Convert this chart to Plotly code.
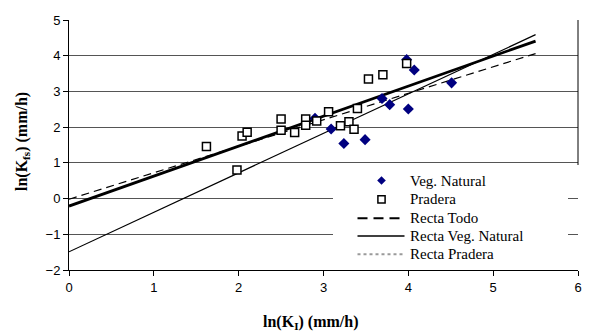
import plotly.graph_objects as go

# Data
veg_x = [3.98, 4.07, 4.51, 3.69, 3.78, 4.00, 3.09, 3.24, 3.49, 2.90]
veg_y = [3.89, 3.60, 3.24, 2.80, 2.63, 2.51, 1.95, 1.54, 1.65, 2.25]

pra_x = [1.62, 1.98, 2.04, 2.10, 2.50, 2.50, 2.66, 2.79, 2.79, 2.92, 3.06, 3.20, 3.30, 3.36, 3.40, 3.53, 3.70, 3.98]
pra_y = [1.46, 0.80, 1.75, 1.86, 2.23, 1.91, 1.85, 2.23, 2.05, 2.17, 2.43, 2.04, 2.15, 1.94, 2.52, 3.35, 3.47, 3.78]

line_x = [0.0, 5.5]
todo_y = [-0.02, 4.06]
vegline_y = [-1.49, 4.59]
praline_y = [-0.21, 4.41]

x_ticks = [0, 1, 2, 3, 4, 5, 6]
y_ticks = [-2, -1, 0, 1, 2, 3, 4, 5]

legend_labels = ["Veg. Natural", "Pradera", "Recta Todo", "Recta Veg. Natural", "Recta Pradera"]

serif = "Liberation Serif, Times New Roman, serif"
sans = "Liberation Sans, Arial, sans-serif"

W, H = 594, 335
ML, MR, MT, MB = 69, 16, 20, 65
PW, PH = W - ML - MR, H - MT - MB
XR = (0, 6)
YR = (-2, 5)


def px(xp):
    return (xp - ML) / PW


def py(yp):
    return (H - MB - yp) / PH


fig = go.Figure()

# regression lines first (markers drawn on top)
fig.add_trace(go.Scatter(x=line_x, y=todo_y, mode="lines", name="Recta Todo",
                         line=dict(color="black", width=1.2, dash="8px,5px")))
fig.add_trace(go.Scatter(x=line_x, y=vegline_y, mode="lines", name="Recta Veg. Natural",
                         line=dict(color="black", width=1.2)))
fig.add_trace(go.Scatter(x=line_x, y=praline_y, mode="lines", name="Recta Pradera",
                         line=dict(color="black", width=2.8)))
fig.add_trace(go.Scatter(x=veg_x, y=veg_y, mode="markers", name="Veg. Natural",
                         marker=dict(symbol="diamond", size=8.5, color="#000080")))
fig.add_trace(go.Scatter(x=pra_x, y=pra_y, mode="markers", name="Pradera",
                         marker=dict(symbol="square", size=8, color="white",
                                     line=dict(color="black", width=1.5))))

# white legend backdrop covering the gridlines (between grid and traces)
fig.add_shape(type="rect", xref="x", yref="y",
              x0=XR[0] + px(333) * (XR[1] - XR[0]), x1=XR[0] + px(568) * (XR[1] - XR[0]),
              y0=YR[0] + py(268) * (YR[1] - YR[0]), y1=YR[0] + py(165) * (YR[1] - YR[0]),
              fillcolor="white", line=dict(width=0), layer="between")
# right frame line (interrupted by the legend in the reference)
fig.add_shape(type="line", xref="paper", yref="paper", x0=1, x1=1, y0=py(165), y1=1,
              line=dict(color="black", width=1), layer="above")

# legend drawn by hand so that size and spacing match the reference
rows = [180.5, 199.3, 218.3, 236.0, 254.3]
sx0, sx1, scx, tx = 357.5, 404.5, 381.5, 408
d = 4.3
fig.add_shape(type="path", xref="paper", yref="paper",
              path=f"M {px(scx)},{py(rows[0]-d)} L {px(scx+d)},{py(rows[0])} "
                   f"L {px(scx)},{py(rows[0]+d)} L {px(scx-d)},{py(rows[0])} Z",
              fillcolor="#000080", line=dict(width=0))
s = 3.6
fig.add_shape(type="rect", xref="paper", yref="paper",
              x0=px(scx - s), x1=px(scx + s), y0=py(rows[1] + s), y1=py(rows[1] - s),
              fillcolor="white", line=dict(color="black", width=1.5))
fig.add_shape(type="line", xref="paper", yref="paper", x0=px(sx0), x1=px(sx1 - 4),
              y0=py(rows[2]), y1=py(rows[2]), line=dict(color="black", width=2, dash="10px,6px"))
fig.add_shape(type="line", xref="paper", yref="paper", x0=px(sx0), x1=px(sx1),
              y0=py(rows[3]), y1=py(rows[3]), line=dict(color="black", width=1.5))
fig.add_shape(type="line", xref="paper", yref="paper", x0=px(sx0), x1=px(sx1),
              y0=py(rows[4]), y1=py(rows[4]), line=dict(color="#9a9a9a", width=2, dash="dot"))
for lab, r in zip(legend_labels, rows):
    fig.add_annotation(text=lab, xref="paper", yref="paper", x=px(tx), y=py(r),
                       xanchor="left", yanchor="middle", showarrow=False,
                       font=dict(family=serif, size=15, color="black"))

fig.update_xaxes(range=list(XR), tickvals=x_ticks, showgrid=False, zeroline=False,
                 showline=True, linecolor="black", linewidth=1,
                 ticks="outside", ticklen=5, tickcolor="black",
                 tickfont=dict(family=sans, size=13, color="black"))
fig.update_yaxes(range=list(YR), tickvals=y_ticks, showgrid=True, gridcolor="#555555",
                 gridwidth=1, zeroline=False,
                 showline=True, linecolor="black", linewidth=1,
                 ticks="outside", ticklen=5, tickcolor="black",
                 tickfont=dict(family=sans, size=13, color="black"))

fig.add_annotation(text="<b>ln(K<sub>I</sub>) (mm/h)</b>", xref="paper", yref="paper",
                   x=px(310), y=py(322), yanchor="middle", xanchor="center", showarrow=False,
                   font=dict(family=serif, size=16, color="black"))
fig.add_annotation(text="<b>ln(K<sub>fs</sub>) (mm/h)</b>", xref="paper", yref="paper",
                   x=px(22), y=py(142), textangle=-90, xanchor="center", yanchor="middle",
                   showarrow=False, font=dict(family=serif, size=16, color="black"))

fig.update_layout(
    width=W, height=H,
    margin=dict(l=ML, r=MR, t=MT, b=MB),
    paper_bgcolor="white", plot_bgcolor="white",
    showlegend=False,
)

fig.write_html("out.html", config={"displayModeBar": False},
               post_script="document.body.style.margin='0';")
